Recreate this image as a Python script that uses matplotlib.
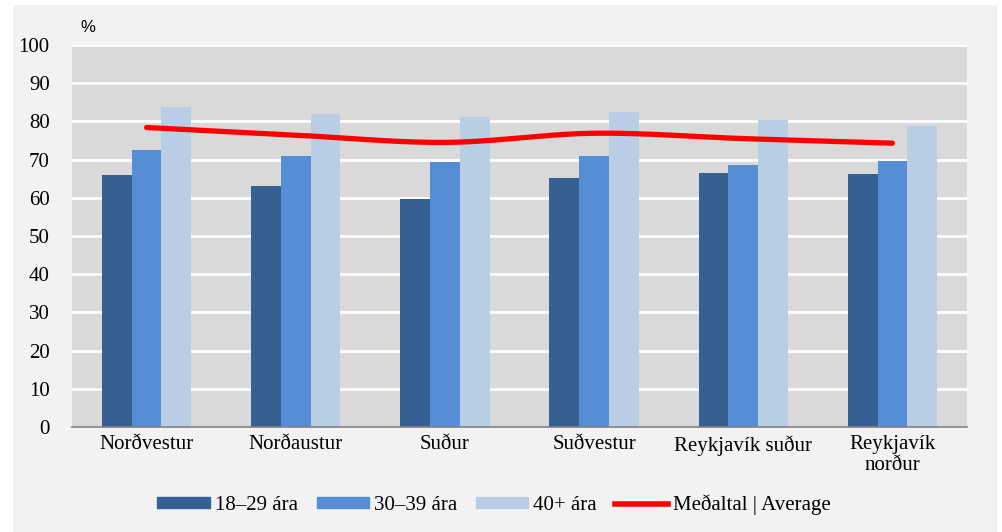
import numpy as np
import matplotlib
matplotlib.use("Agg")
import matplotlib.pyplot as plt
from matplotlib.patches import Rectangle
from matplotlib.lines import Line2D

categories = ["Norðvestur", "Norðaustur", "Suður", "Suðvestur", "Reykjavík suður", "Reykjavík\nnorður"]
age_18_29 = [65.9, 63.2, 59.6, 65.1, 66.5, 66.1]
age_30_39 = [72.5, 70.9, 69.4, 70.9, 68.5, 69.7]
age_40 = [83.8, 81.9, 81.2, 82.5, 80.4, 78.9]
average = [78.4, 76.4, 74.5, 76.9, 75.5, 74.3]
series_labels = ["18–29 ára", "30–39 ára", "40+ ára", "Meðaltal | Average"]
yticks = list(range(0, 101, 10))

c_dark = "#366092"
c_mid = "#558ED5"
c_light = "#B9CDE5"
c_red = "#FF0000"

serif = "Liberation Serif"
fs = 15

fig = plt.figure(figsize=(10.02, 5.32), dpi=100)
fig.patch.set_facecolor("white")
fig.patches.append(Rectangle((13/1002, 0), (997-13)/1002, 1-5/532,
                             transform=fig.transFigure, facecolor="#F2F2F2",
                             edgecolor="none", zorder=-10))

ax = fig.add_axes([72/1002, 1-427/532, (967-72)/1002, (427-45)/532])
ax.set_facecolor("#D9D9D9")

x = np.arange(len(categories))
w = 0.2
ax.bar(x - w, age_18_29, w, color=c_dark, zorder=3, label=series_labels[0])
ax.bar(x, age_30_39, w, color=c_mid, zorder=3, label=series_labels[1])
ax.bar(x + w, age_40, w, color=c_light, zorder=3, label=series_labels[2])

# smoothed line (Catmull-Rom)
pts = np.column_stack([x, average]).astype(float)
P = np.vstack([pts[0], pts, pts[-1]])
xs, ys = [], []
for i in range(1, len(P) - 2):
    p0, p1, p2, p3 = P[i-1], P[i], P[i+1], P[i+2]
    t = np.linspace(0, 1, 40)[:, None]
    seg = 0.5 * ((2*p1) + (-p0 + p2)*t + (2*p0 - 5*p1 + 4*p2 - p3)*t**2 + (-p0 + 3*p1 - 3*p2 + p3)*t**3)
    xs.extend(seg[:, 0]); ys.extend(seg[:, 1])
ax.plot(xs, ys, color=c_red, lw=3.8, solid_capstyle="round", zorder=4)

ax.set_xlim(-0.5, len(categories) - 0.5)
ax.set_ylim(0, 100)
ax.set_yticks(yticks)
ax.yaxis.grid(True, color="white", lw=2, zorder=1)
ax.set_axisbelow(True)
for s in ["top", "right", "left"]:
    ax.spines[s].set_visible(False)
ax.spines["bottom"].set_color("#808080")
ax.spines["bottom"].set_linewidth(1.2)
ax.spines["bottom"].set_zorder(5)
ax.tick_params(axis="both", length=0, labelsize=fs)
ax.tick_params(axis="y", pad=16)
ax.tick_params(axis="x", pad=6)
ax.set_xticks(x)
ax.set_xticklabels(categories, fontfamily=serif, linespacing=1.15)
for lab in ax.get_yticklabels():
    lab.set_fontfamily(serif)

fig.text(80/1002, 1-28/532, "%", fontsize=12, fontfamily="Liberation Sans", va="center", ha="left")

handles = [Rectangle((0, 0), 1, 1, color=c_dark), Rectangle((0, 0), 1, 1, color=c_mid),
           Rectangle((0, 0), 1, 1, color=c_light), Line2D([0], [0], color=c_red, lw=4)]
leg = fig.legend(handles, series_labels, loc="center", bbox_to_anchor=(494/1002, 1-505/532),
                 ncol=4, frameon=False, prop={"family": serif, "size": fs},
                 handlelength=2.5, handleheight=0.45, handletextpad=0.25, columnspacing=0.9)

fig.savefig("out.png", dpi=100, facecolor=fig.get_facecolor())
